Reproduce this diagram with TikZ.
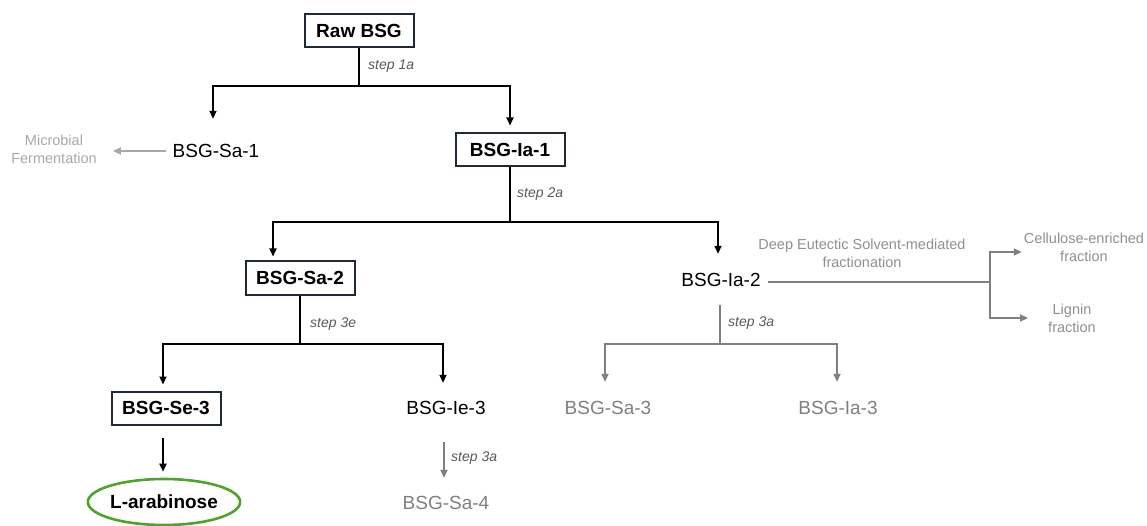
\documentclass[tikz,border=0pt]{standalone}
\usepackage{fontspec}
\setmainfont{Liberation Sans}
\usetikzlibrary{arrows.meta,shapes.geometric}
\definecolor{boxborder}{HTML}{1F2A36}
\definecolor{midgray}{HTML}{7F7F7F}
\definecolor{notegray}{HTML}{8F8F8F}
\definecolor{lightgray}{HTML}{A8A8A8}
\definecolor{stepgray}{HTML}{595959}
\definecolor{arabgreen}{HTML}{4FA22F}
\tikzset{
  box/.style={draw=boxborder, line width=2pt, minimum width=109pt, minimum height=33pt, inner sep=0pt, font=\fontsize{19}{22}\selectfont\bfseries},
  txt/.style={inner sep=0pt, minimum height=50pt, font=\fontsize{19}{22}\selectfont},
  gtxt/.style={txt, text=midgray},
  note/.style={inner sep=0pt, align=center, text=notegray, font=\fontsize{14.5}{18}\selectfont},
  steplbl/.style={inner sep=0pt, anchor=west, text=stepgray, font=\fontsize{14}{16}\selectfont\itshape},
  ell/.style={ellipse, draw=arabgreen, line width=2.6pt, minimum width=145pt, minimum height=46pt, inner sep=0pt, font=\fontsize{19}{22}\selectfont\bfseries},
  blk/.style={draw=black, line width=1.8pt},
  blkarr/.style={blk, -{Triangle[length=8pt,width=7pt]}},
  gln/.style={draw=midgray, line width=1.8pt},
  garr/.style={gln, -{Triangle[length=8pt,width=7pt]}},
  larr/.style={draw=lightgray, line width=1.8pt, -{Triangle[length=8pt,width=7pt]}}
}
\begin{document}
\begin{tikzpicture}[x=1pt,y=-1pt]
\useasboundingbox (0,0) rectangle (1147,526);
% nodes
\node[box] (raw) at (359,31) {Raw BSG};
\node[box] (ia1) at (510,150) {BSG-Ia-1};
\node[box] (sa2) at (300,278) {BSG-Sa-2};
\node[box] (se3) at (166,408) {BSG-Se-3};
\node[txt] (sa1) at (216,151) {BSG-Sa-1};
\node[txt] (ia2) at (721,280) {BSG-Ia-2};
\node[txt] (ie3) at (446,408) {BSG-Ie-3};
\node[gtxt] (sa3) at (608,408) {BSG-Sa-3};
\node[gtxt] (ia3) at (838,408) {BSG-Ia-3};
\node[gtxt] (sa4) at (446,503) {BSG-Sa-4};
\node[ell] (ara) at (164,502) {L-arabinose};
\node[note, text=lightgray] (mf) at (54,149) {Microbial\\Fermentation};
\node[note] (des) at (862,253) {Deep Eutectic Solvent-mediated\\fractionation};
\node[note] (cel) at (1084,247) {Cellulose-enriched\\fraction};
\node[note] (lig) at (1072,318) {Lignin\\fraction};
% junctions
\coordinate (j1) at (359,86);
\coordinate (j2) at (510,222);
\coordinate (j3) at (300,344);
\coordinate (j4) at (720,344);
\coordinate (j5) at (990,282);
% step labels
\node[steplbl] (s1) at (368,66) {step 1a};
\node[steplbl] (s2) at (517,194) {step 2a};
\node[steplbl] (s3) at (310,324) {step 3e};
\node[steplbl] (s4) at (728,323) {step 3a};
\node[steplbl] (s5) at (451,458) {step 3a};
% connectors
\draw[blk] (raw.south) -- (j1);
\draw[blkarr, shorten >=7pt] (j1) -| ([xshift=-3pt]sa1.north);
\draw[blkarr, shorten >=7pt] (j1) -| (ia1.north);
\draw[larr, shorten <=7pt, shorten >=16pt] (sa1.west) -- (mf.east |- sa1.west);
\draw[blk] (ia1.south) -- (j2);
\draw[blkarr, shorten >=4pt] (j2) -| ([xshift=-27pt]sa2.north);
\draw[blkarr, shorten >=1pt] (j2) -| ([xshift=-3pt]ia2.north);
\draw[blk] (sa2.south) -- (j3);
\draw[blkarr, shorten >=6pt] (j3) -| ([xshift=-3pt]se3.north);
\draw[blkarr, shorten >=0pt] (j3) -| ([xshift=-3pt]ie3.north);
\draw[blkarr, shorten <=12pt, shorten >=6pt] ([xshift=-3pt]se3.south) -- ([xshift=-1pt]ara.north);
\draw[garr, shorten <=9pt] ([xshift=-2pt]ie3.south) -- ([xshift=-2pt]sa4.north);
\draw[gln] ([xshift=-1pt]ia2.south) -- (j4);
\draw[garr, shorten >=1pt] (j4) -| ([xshift=-3pt]sa3.north);
\draw[garr, shorten >=1pt] (j4) -| ([xshift=-1pt]ia3.north);
\draw[gln, shorten <=7pt] (ia2.east |- j5) -- (j5);
\draw[garr, shorten >=2pt] (j5) |- ([yshift=-5pt]cel.west);
\draw[garr, shorten >=20pt] (j5) |- (lig.west);
\end{tikzpicture}
\end{document}
